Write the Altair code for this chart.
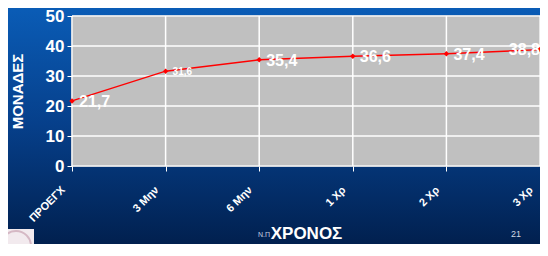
import altair as alt
import pandas as pd

categories = ["ΠΡΟΕΓΧ", "3 Μην", "6 Μην", "1 Χρ", "2 Χρ", "3 Χρ"]
values = [21.7, 31.6, 35.4, 36.6, 37.4, 38.8]
labels = ["21,7", "31,6", "35,4", "36,6", "37,4", "38,8"]
y_ticks = [0, 10, 20, 30, 40, 50]

W, H = 468, 150
PL, PT, PR, PB = 64, 8, 0, 78

df = pd.DataFrame({"cat": categories, "val": values, "lab": labels})

xs = alt.Scale(type="point", padding=0, domain=categories)
ys = alt.Scale(domain=[0, 50], nice=False, zero=True)

grad = alt.LinearGradient(
    gradient="linear",
    stops=[
        alt.GradientStop(color="#0a5cb6", offset=0),
        alt.GradientStop(color="#063f8a", offset=0.5),
        alt.GradientStop(color="#01204f", offset=1),
    ],
    x1=0, x2=0, y1=0, y2=1,
)

xaxis = alt.Axis(
    title="ΧΡΟΝΟΣ", labelAngle=-45, labelAlign="right", labelBaseline="middle",
    labelFontSize=11, labelFontWeight="bold", labelColor="white",
    labelPadding=17, labelOffset=-9, labelBound=False, labelFlush=False,
    tickColor="white", tickSize=5, domain=False, grid=False,
    titleFontSize=17, titleFontWeight="bold", titleColor="white",
    titleY=67, titleBaseline="middle", labelFont="Arial", titleFont="Arial",
    zindex=2,
)
yaxis = alt.Axis(
    title="ΜΟΝΑΔΕΣ", values=y_ticks, labelFontSize=17, labelFontWeight="bold",
    labelColor="white", labelPadding=3, tickColor="white", tickSize=5,
    domain=False, grid=False, titleFontSize=15, titleFontWeight="bold",
    titleColor="white", titleX=-55, titleY=75, titleBaseline="middle",
    titleAlign="center", labelFont="Arial", titleFont="Arial", zindex=2,
)

one = alt.Data(values=[{}])

bg = alt.Chart(one).mark_rect(fill=grad).encode(
    x=alt.value(-PL), x2=alt.value(W + PR), y=alt.value(-PT), y2=alt.value(H + PB)
)

plotbg = alt.Chart(one).mark_rect(fill="#c0c0c0", stroke="#888888", strokeWidth=1).encode(
    x=alt.X(datum=categories[0], scale=xs, axis=xaxis),
    x2=alt.X2(datum=categories[-1]),
    y=alt.Y(datum=0, scale=ys, axis=yaxis),
    y2=alt.Y2(datum=50),
)

hgrid = alt.Chart(pd.DataFrame({"t": y_ticks})).mark_rule(color="white", strokeWidth=1.5).encode(
    y=alt.Y("t:Q", scale=ys, axis=yaxis)
)
vgrid = alt.Chart(pd.DataFrame({"c": categories})).mark_rule(color="white", strokeWidth=1.5).encode(
    x=alt.X("c:N", scale=xs, sort=categories, axis=xaxis)
)

base = alt.Chart(df).encode(
    x=alt.X("cat:N", scale=xs, sort=categories, axis=xaxis),
    y=alt.Y("val:Q", scale=ys, axis=yaxis),
)

line = base.mark_line(color="#ff0000", strokeWidth=1.4)
pts = base.mark_point(shape="diamond", filled=True, color="#ff0000", size=30, opacity=1)

lab_main = base.mark_text(
    align="left", baseline="middle", dx=7, dy=1, color="white",
    fontWeight="bold", font="Arial",
).encode(
    text="lab:N",
    size=alt.condition(alt.datum.lab == "31,6", alt.value(10), alt.value(16)),
).transform_filter(alt.datum.cat != categories[-1])

lab_last = base.mark_text(
    align="right", baseline="middle", dx=0, dy=0, color="white",
    fontWeight="bold", font="Arial", fontSize=16,
).encode(text="lab:N").transform_filter(alt.datum.cat == categories[-1])

np_txt = alt.Chart(one).mark_text(
    text="Ν.Π", align="right", baseline="middle", fontSize=7, color="#c8d0e0", font="Arial"
).encode(x=alt.value(198), y=alt.value(219))

page_txt = alt.Chart(one).mark_text(
    text="21", align="center", baseline="middle", fontSize=9, color="#d0d8e4", font="Arial"
).encode(x=alt.value(444), y=alt.value(218))

logo = alt.Chart(one).mark_rect(fill="#f2eaee").encode(
    x=alt.value(-64), x2=alt.value(-38), y=alt.value(213), y2=alt.value(H + PB)
)
logo_c = alt.Chart(one).mark_point(shape="circle", size=900, stroke="#c9a3b3", strokeWidth=2, filled=False).encode(
    x=alt.value(-56), y=alt.value(230)
)

chart = alt.layer(
    bg, logo, logo_c, plotbg, hgrid, vgrid, line, pts, lab_main, lab_last, np_txt, page_txt
).properties(
    width=W, height=H,
    autosize=alt.AutoSizeParams(type="none"),
    padding={"left": PL, "top": PT, "right": PR, "bottom": PB},
).configure_view(stroke=None).configure(font="Arial")

chart.save("out.html", embed_options={"renderer": "svg", "actions": False})
